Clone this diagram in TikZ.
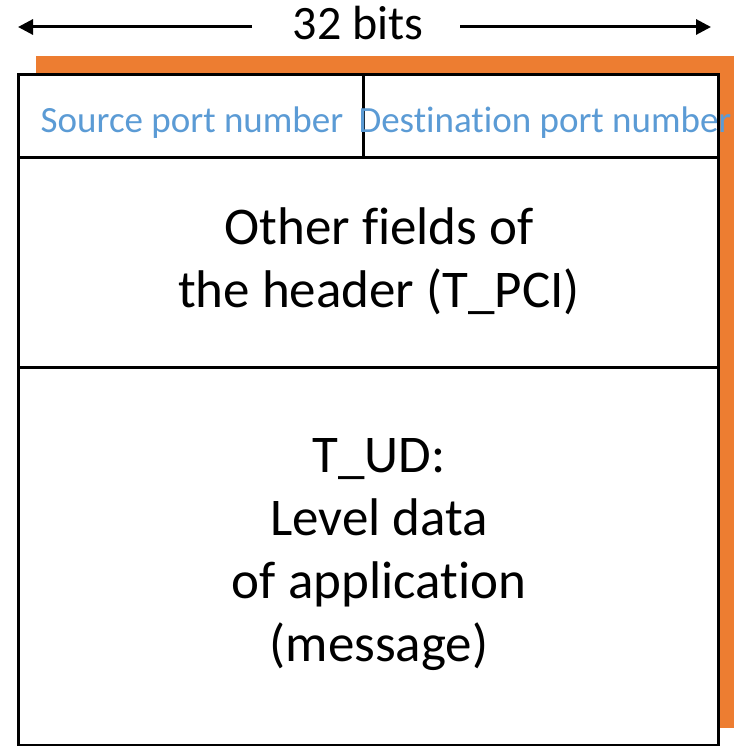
\documentclass[tikz,border=0pt]{standalone}
\usepackage{fontspec}
\setmainfont{Carlito}[Ligatures=NoCommon]
\usetikzlibrary{arrows.meta}
\definecolor{tpdu}{HTML}{ED7D31}
\definecolor{portblue}{HTML}{5B9BD5}

\begin{document}
\begin{tikzpicture}[x=1pt,y=-1pt,>={Triangle[length=15pt,width=15pt]},
    cell/.style={draw,line width=3pt,fill=white,inner sep=0pt},
    port/.style={text=portblue,font=\fontsize{37}{44}\selectfont,inner sep=0pt},
    field/.style={align=center,font=\fontsize{53}{63}\selectfont,inner sep=0pt}]
    \useasboundingbox (0,0) rectangle (733,746);
    \fill[tpdu] (36,56) rectangle (745,728);
    \node[cell,minimum width=345pt,minimum height=83pt]  (src) at (190.5,116.5) {} ;
    \node[cell,minimum width=355pt,minimum height=83pt]  (dst) at (540.5,116.5) {} ;
    \node[cell,minimum width=700pt,minimum height=209pt] (pci) at (368,262.5) {} ;
    \node[cell,minimum width=700pt,minimum height=378pt] (ud)  at (368,556) {} ;
    \node[port,anchor=base] (srctxt) at (192,133) {Source port number} ;
    \node[port,anchor=base] (dsttxt) at (545,133) {Destination port number} ;
    \node[field] (pcitxt) at (379,261) {Other fields of\\the header (T\_PCI)} ;
    \node[field] (udtxt)  at (379,555) {T\_UD:\\Level data\\of application\\(message)} ;
    \node[inner sep=0pt,anchor=base,font=\fontsize{48}{58}\selectfont] (bits) at (358,40) {32 bits} ;
    \coordinate (l1) at (252,27) ; \coordinate (l2) at (18,27) ;
    \coordinate (r1) at (460,27) ; \coordinate (r2) at (711,27) ;
    \draw[->,line width=3pt] (l1) -- (l2) ;
    \draw[->,line width=3pt] (r1) -- (r2) ;
\end{tikzpicture}
\end{document}
